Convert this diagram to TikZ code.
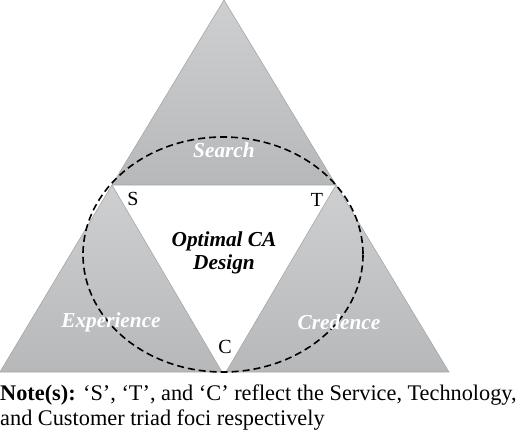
\documentclass[tikz,border=0pt]{standalone}
\usepackage{fontspec}
\setmainfont{Liberation Serif}
\usetikzlibrary{calc}
\definecolor{tritop}{RGB}{206,207,209}
\definecolor{tribot}{RGB}{183,184,186}
\definecolor{triedge}{RGB}{165,166,168}
\tikzset{
	facet/.style={top color=tritop, bottom color=tribot, draw=triedge, line width=0.6pt},
	facetlabel/.style={text=white, font=\fontsize{21.3}{23}\selectfont\bfseries\itshape},
	cornerlabel/.style={font=\fontsize{20}{22}\selectfont},
	notetext/.style={anchor=base west, inner sep=0pt, font=\fontsize{22.3}{25}\selectfont},
	scope/.style={dashed, dash pattern=on 7pt off 4pt, line width=1.6pt}
}

\begin{document}
\begin{tikzpicture}[x=1pt, y=-1pt]
			%%%%% START %%%%%
			\useasboundingbox (0, 0) rectangle (520, 434);
			
			\coordinate (S) at (112, 185);
			\coordinate (T) at (336, 185);
			\coordinate (C) at (224, 372);
			
			% the three facets
			\shadedraw[facet] (224, 0) -- (T) -- (S) -- cycle;
			\shadedraw[facet] (S) -- (222, 372) -- (0, 372) -- cycle;
			\shadedraw[facet] (T) -- (449, 372) -- (226, 372) -- cycle;
			
			% scope of the design
			\draw[scope] (223, 254.5) ellipse (140 and 117.5);
			
			\node[facetlabel] (search) at (224, 150) {Search};
			\node[facetlabel] (experience) at (111, 322) {Experience};
			\node[facetlabel] (credence) at (339, 322) {Credence};
			
			\node[facetlabel, text=black, align=center] (optimal) at (224, 253) {Optimal CA\\Design};
			
			\node[cornerlabel] (s) at (133, 198.5) {S};
			\node[cornerlabel] (t) at (317, 199.5) {T};
			\node[cornerlabel] (c) at (225, 346.5) {C};
			
			\node[notetext] (note1) at (0, 400) {\textbf{Note(s):} `S', `T', and `C' reflect the Service, Technology,};
			\node[notetext] (note2) at (0, 425) {and Customer triad foci respectively};
			%%%%% END %%%%%
\end{tikzpicture}
\end{document}
